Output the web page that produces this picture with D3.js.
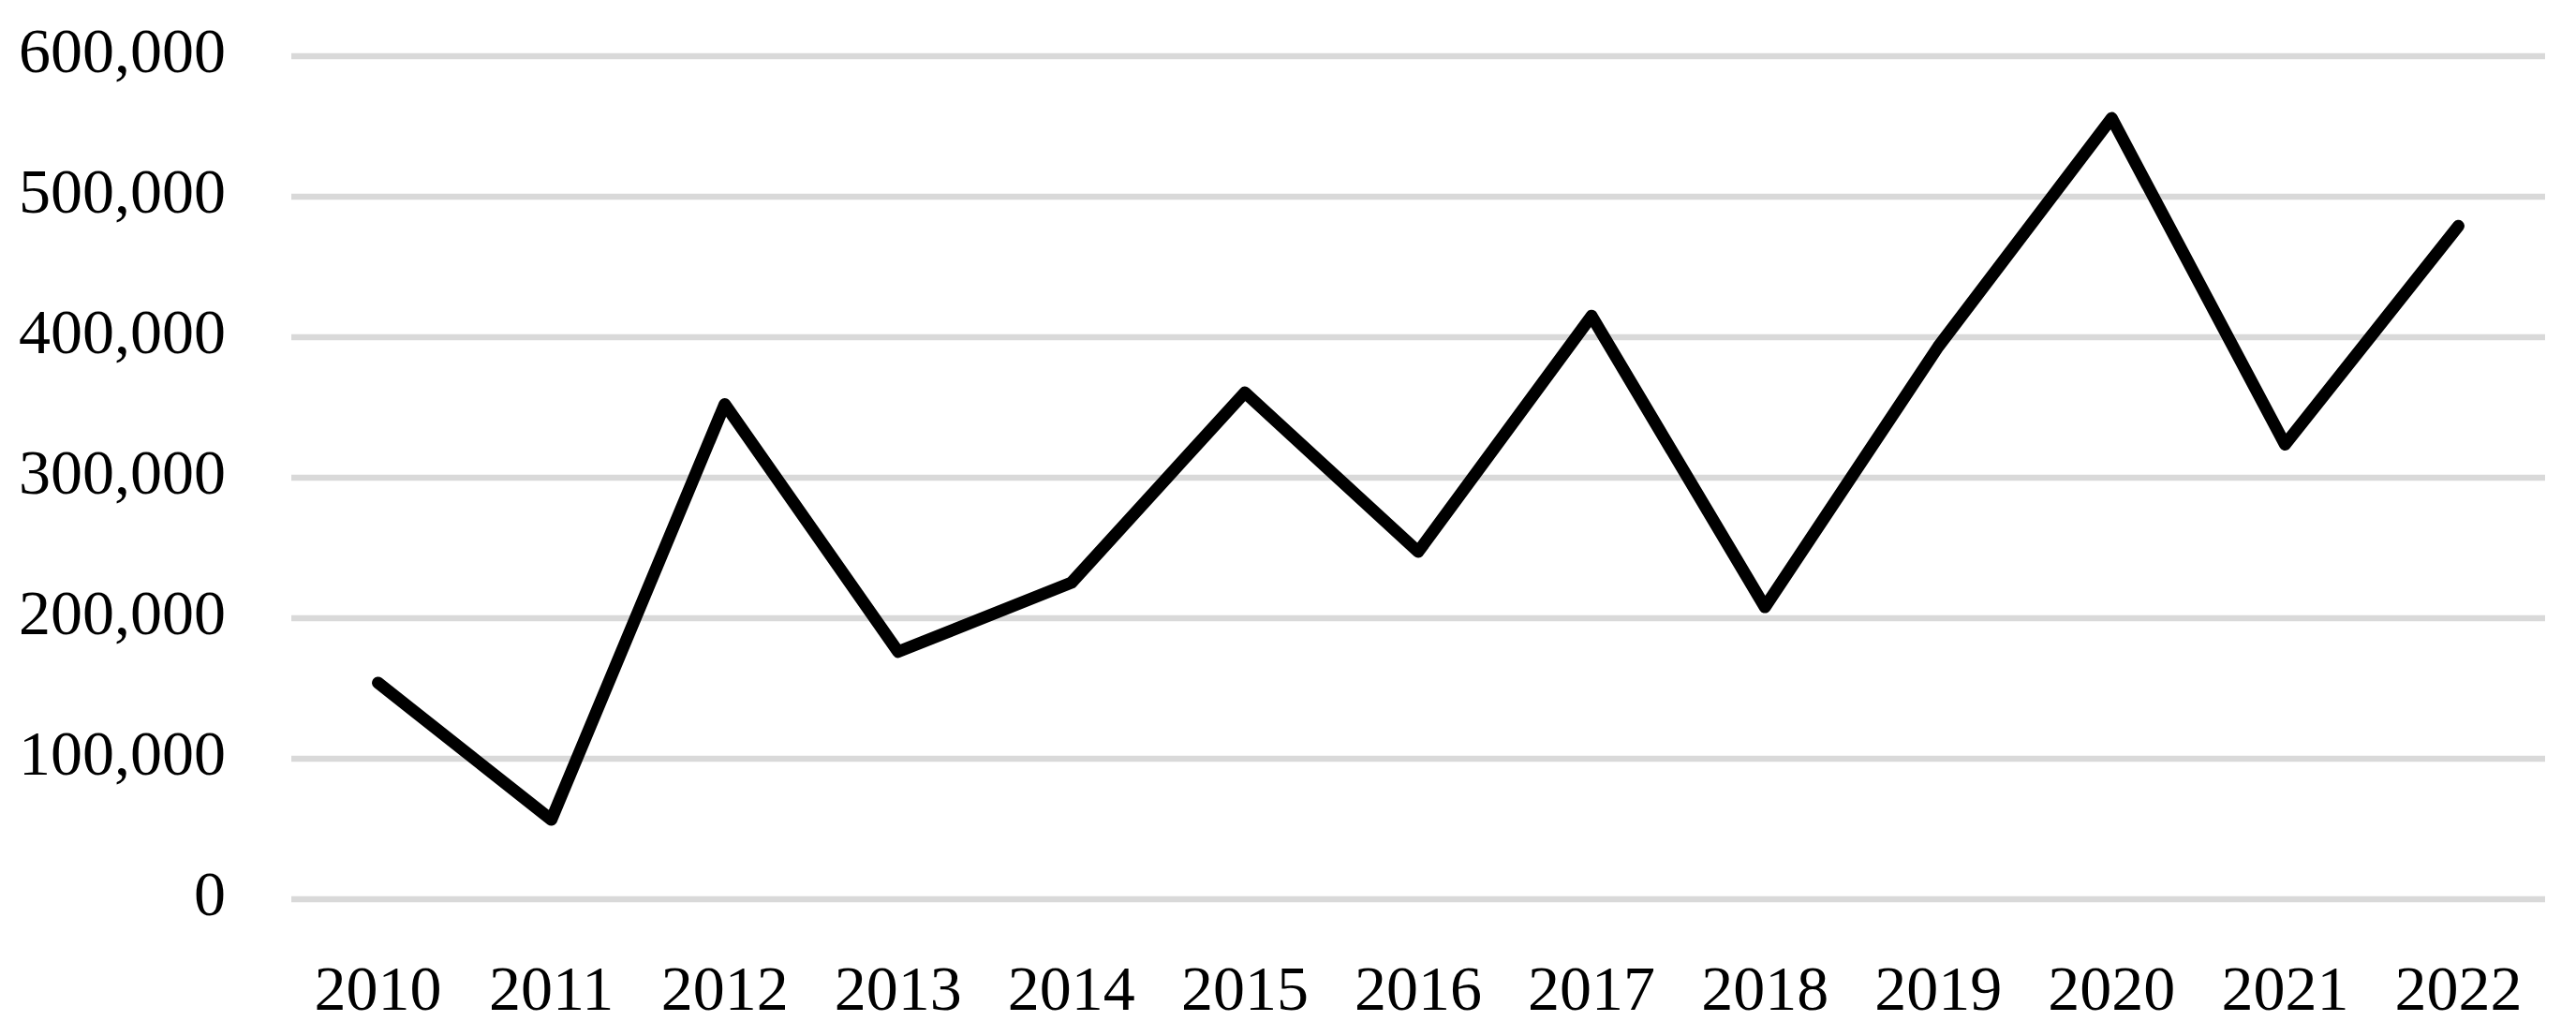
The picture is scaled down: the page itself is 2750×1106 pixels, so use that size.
<!doctype html>
<html>
<head>
<style>
  body { margin: 0; background: #fff; }
  .grid line { stroke: #d9d9d9; stroke-width: 6.5; }
  .axis text { font-family: "Liberation Serif", serif; font-size: 68px; fill: #000; }
</style>
<script src="https://d3js.org/d3.v7.min.js"></script>
</head>
<body>
<svg width="2750" height="1106"></svg>
<script>
var years = ["2010", "2011", "2012", "2013", "2014", "2015", "2016",
             "2017", "2018", "2019", "2020", "2021", "2022"];
var values = [153700, 56300, 352000, 175800, 225000, 360300, 247000,
              414800, 207600, 393000, 555600, 323300, 478800];
var yTicks = [0, 100000, 200000, 300000, 400000, 500000, 600000];

var svg = d3.select("svg"),
    plotLeft = 311, plotRight = 2717,
    plotTop = 59.5, plotBottom = 959.5;

var x = d3.scaleBand().domain(years).range([plotLeft, plotRight]).padding(0);
var y = d3.scaleLinear().domain([0, 600000]).range([plotBottom, plotTop]);

// gridlines + y labels
var gy = svg.append("g")
    .attr("class", "axis grid")
    .attr("transform", "translate(" + plotLeft + ",0)")
    .call(d3.axisLeft(y).tickValues(yTicks)
        .tickSize(-(plotRight - plotLeft))
        .tickPadding(70)
        .tickFormat(d3.format(",")));
gy.select(".domain").remove();
gy.selectAll("text").attr("dy", "0.25em");

// x labels
var gx = svg.append("g")
    .attr("class", "axis")
    .attr("transform", "translate(0," + plotBottom + ")")
    .call(d3.axisBottom(x).tickSize(0).tickPadding(70));
gx.select(".domain").remove();
gx.selectAll("text").attr("dy", "0.71em");

var line = d3.line()
    .x(function(d, i) { return x(years[i]) + x.bandwidth() / 2; })
    .y(function(d) { return y(d); });

svg.append("path")
    .datum(values)
    .attr("fill", "none")
    .attr("stroke", "#000")
    .attr("stroke-width", 13)
    .attr("stroke-linejoin", "round")
    .attr("stroke-linecap", "round")
    .attr("d", line);
</script>
</body>
</html>
